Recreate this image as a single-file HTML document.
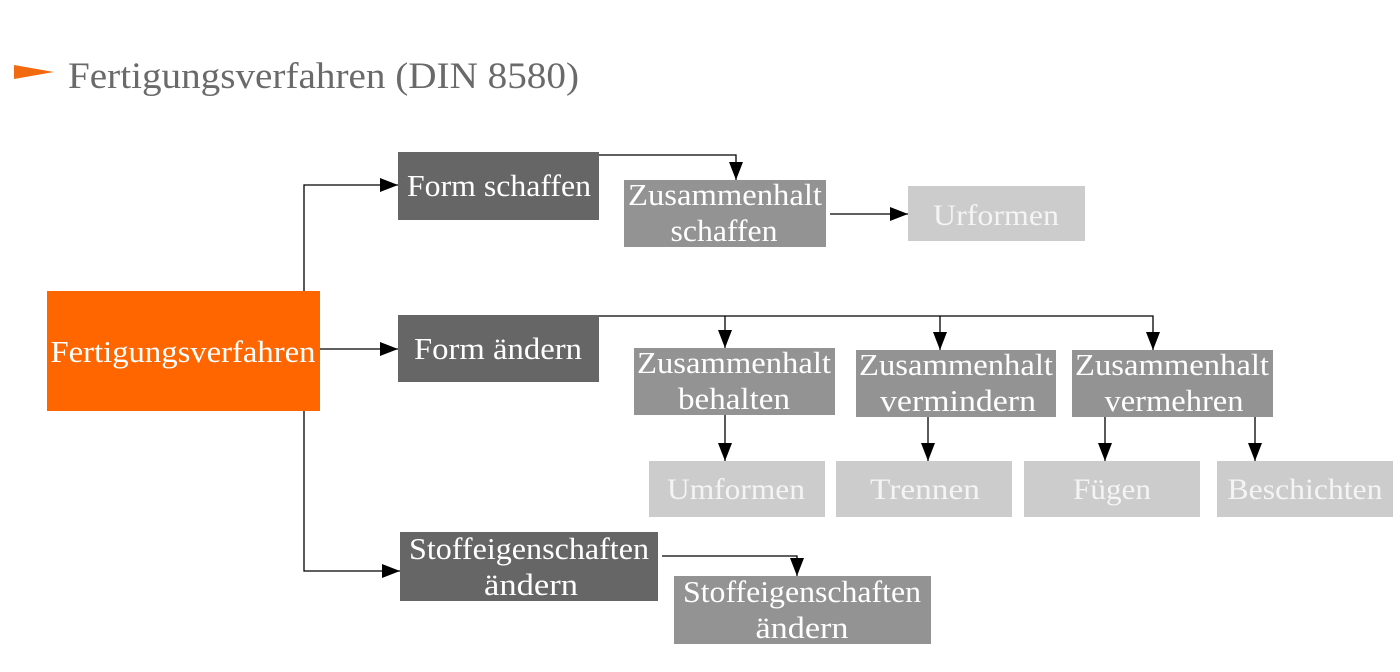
<!DOCTYPE html>
<html><head><meta charset="utf-8"><style>
html,body{margin:0;padding:0;background:#fff;}
svg{display:block;}
text{font-family:"Liberation Serif",serif;}
</style></head><body>
<svg width="1400" height="672" viewBox="0 0 1400 672" xmlns="http://www.w3.org/2000/svg">
<defs>
<marker id="a" markerWidth="18" markerHeight="14" refX="18" refY="7" orient="auto" markerUnits="userSpaceOnUse" viewBox="0 0 18 14">
<path d="M0,0 L18,7 L0,14 z" fill="#000"/>
</marker>
</defs>
<polygon points="14,65 54,72 14,79" fill="#f26a10"/>
<text x="68" y="88" font-size="37" fill="#6a6a6a" textLength="511" lengthAdjust="spacingAndGlyphs">Fertigungsverfahren (DIN 8580)</text>

<g stroke="#000" stroke-width="1.3" fill="none">
<polyline points="304,411 304,571 400,571" marker-end="url(#a)"/>
<polyline points="304,291 304,185 398,185" marker-end="url(#a)"/>
<line x1="320" y1="349" x2="398" y2="349" marker-end="url(#a)"/>
<polyline points="599,155 736,155 736,180" marker-end="url(#a)"/>
<line x1="830" y1="214" x2="908" y2="214" marker-end="url(#a)"/>
<polyline points="599,316 1153,316 1153,350" marker-end="url(#a)"/>
<line x1="725" y1="316" x2="725" y2="348" marker-end="url(#a)"/>
<line x1="940" y1="316" x2="940" y2="350" marker-end="url(#a)"/>
<line x1="725" y1="415" x2="725" y2="461" marker-end="url(#a)"/>
<line x1="928" y1="417" x2="928" y2="461" marker-end="url(#a)"/>
<line x1="1105" y1="417" x2="1105" y2="461" marker-end="url(#a)"/>
<line x1="1255" y1="417" x2="1255" y2="461" marker-end="url(#a)"/>
<polyline points="662,556 797,556 797,576" marker-end="url(#a)"/>
</g>

<rect x="47" y="291" width="273" height="120" fill="#ff6600"/>
<text x="183" y="362" font-size="31" fill="#fff" text-anchor="middle" textLength="265" lengthAdjust="spacingAndGlyphs">Fertigungsverfahren</text>

<g fill="#666">
<rect x="398" y="152" width="201" height="68"/>
<rect x="398" y="315" width="201" height="67"/>
<rect x="400" y="532" width="258" height="69"/>
</g>
<g fill="#939393">
<rect x="624" y="180" width="202" height="67"/>
<rect x="634" y="348" width="201" height="67"/>
<rect x="856" y="350" width="200" height="67"/>
<rect x="1072" y="350" width="201" height="67"/>
<rect x="674" y="576" width="257" height="68"/>
</g>
<g fill="#cccccc">
<rect x="908" y="186" width="177" height="55"/>
<rect x="649" y="461" width="176" height="56"/>
<rect x="836" y="461" width="176" height="56"/>
<rect x="1024" y="461" width="176" height="56"/>
<rect x="1217" y="461" width="176" height="56"/>
</g>

<g font-size="31" fill="#fff" text-anchor="middle">
<text x="499" y="196" textLength="184" lengthAdjust="spacingAndGlyphs">Form schaffen</text>
<text x="498" y="359" textLength="168" lengthAdjust="spacingAndGlyphs">Form ändern</text>
<text x="529" y="559" textLength="240" lengthAdjust="spacingAndGlyphs">Stoffeigenschaften</text>
<text x="531" y="595" textLength="94" lengthAdjust="spacingAndGlyphs">ändern</text>
<text x="725" y="205" textLength="194" lengthAdjust="spacingAndGlyphs">Zusammenhalt</text>
<text x="724" y="241" textLength="107" lengthAdjust="spacingAndGlyphs">schaffen</text>
<text x="734" y="373" textLength="194" lengthAdjust="spacingAndGlyphs">Zusammenhalt</text>
<text x="734" y="409" textLength="112" lengthAdjust="spacingAndGlyphs">behalten</text>
<text x="956" y="375" textLength="194" lengthAdjust="spacingAndGlyphs">Zusammenhalt</text>
<text x="958" y="411" textLength="156" lengthAdjust="spacingAndGlyphs">vermindern</text>
<text x="1172" y="375" textLength="194" lengthAdjust="spacingAndGlyphs">Zusammenhalt</text>
<text x="1174" y="411" textLength="139" lengthAdjust="spacingAndGlyphs">vermehren</text>
<text x="802" y="602" textLength="238" lengthAdjust="spacingAndGlyphs">Stoffeigenschaften</text>
<text x="802" y="638" textLength="93" lengthAdjust="spacingAndGlyphs">ändern</text>
</g>
<g font-size="30" fill="#f4f4f4" text-anchor="middle">
<text x="996" y="225" textLength="126" lengthAdjust="spacingAndGlyphs">Urformen</text>
<text x="736" y="499" textLength="138" lengthAdjust="spacingAndGlyphs">Umformen</text>
<text x="925" y="499" textLength="110" lengthAdjust="spacingAndGlyphs">Trennen</text>
<text x="1112" y="499" textLength="78" lengthAdjust="spacingAndGlyphs">Fügen</text>
<text x="1305" y="499" textLength="155" lengthAdjust="spacingAndGlyphs">Beschichten</text>
</g>
</svg>
</body></html>
